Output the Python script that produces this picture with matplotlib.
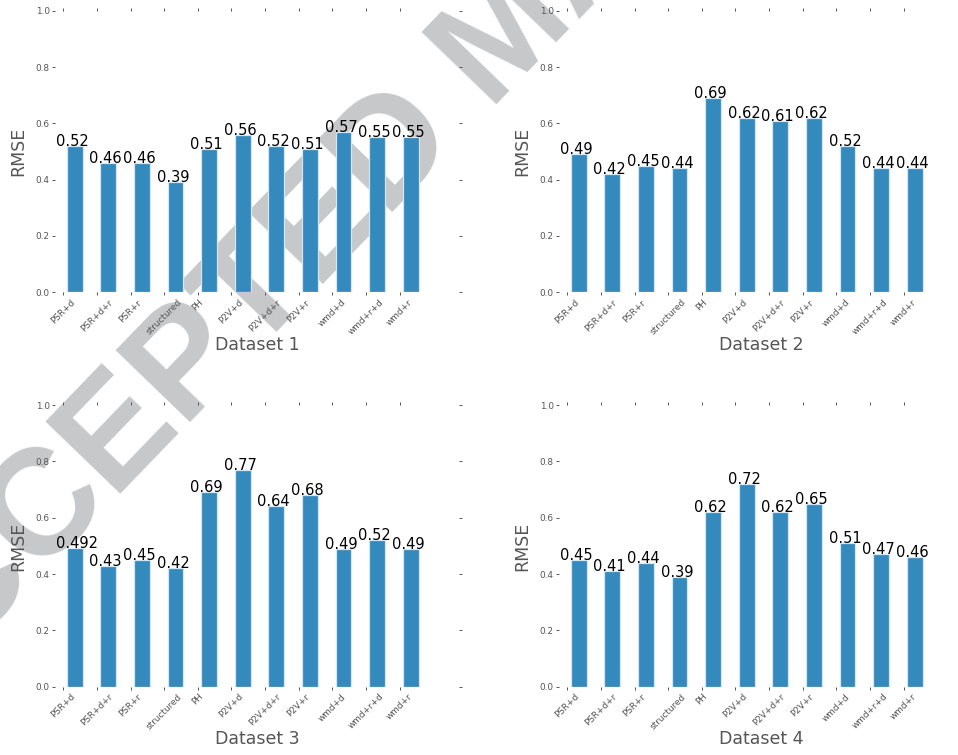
import matplotlib
matplotlib.use("Agg")
import numpy as np
import matplotlib.pyplot as plt

# methods on the x axis
methods = ["PSR+d", "PSR+d+r", "PSR+r", "structured", "PH", "P2V+d",
           "P2V+d+r", "P2V+r", "wmd+d", "wmd+r+d", "wmd+r"]

# RMSE per dataset
rmse_ds1 = [0.52, 0.46, 0.46, 0.39, 0.51, 0.56, 0.52, 0.51, 0.57, 0.55, 0.55]
rmse_ds2 = [0.49, 0.42, 0.45, 0.44, 0.69, 0.62, 0.61, 0.62, 0.52, 0.44, 0.44]
rmse_ds3 = [0.492, 0.43, 0.45, 0.42, 0.69, 0.77, 0.64, 0.68, 0.49, 0.52, 0.49]
rmse_ds4 = [0.45, 0.41, 0.44, 0.39, 0.62, 0.72, 0.62, 0.65, 0.51, 0.47, 0.46]

titles = ["Dataset 1", "Dataset 2", "Dataset 3", "Dataset 4"]

bar_color = "#348ABD"
grey = "#555555"

fig = plt.figure(figsize=(9.58, 7.55), dpi=100)

# watermark, drawn behind the axes
fig.text(508 / 958, 1 - 36 / 755, "ACCEPTED MANUSCRIPT",
         fontsize=108, family="Liberation Sans", weight="bold",
         color="#c7c8ca", rotation=46, rotation_mode="anchor",
         ha="center", va="center", zorder=-1)

w, h = 404 / 958, 281.6 / 755
positions = [
    [55 / 958, 1 - 292.3 / 755, w, h],
    [559 / 958, 1 - 292.3 / 755, w, h],
    [55 / 958, 1 - 686.7 / 755, w, h],
    [559 / 958, 1 - 686.7 / 755, w, h],
]

ind = np.arange(len(methods))

for pos, vals, title in zip(positions, [rmse_ds1, rmse_ds2, rmse_ds3, rmse_ds4], titles):
    ax = fig.add_axes(pos)
    ax.patch.set_alpha(0)
    for s in ax.spines.values():
        s.set_visible(False)

    ax.bar(ind + 0.1, vals, 0.47, align="edge", color=bar_color,
           edgecolor="#d6e6f1", linewidth=0.9)
    for i, v in enumerate(vals):
        ax.text(i - 0.23, v, str(v), ha="left", va="baseline",
                fontsize=10.5, color="black")

    ax.set_xlim(-0.25, 11.77)
    ax.set_ylim(0, 1.0)
    ax.set_xticks(ind)
    ax.set_xticklabels(methods, rotation=45, ha="center")
    ax.set_yticks(np.arange(0, 1.01, 0.2))
    ax.tick_params(axis="both", which="major", direction="out", length=2.4,
                   width=0.7, color=grey, labelcolor=grey, labelsize=6.4,
                   top=True, right=True)
    ax.tick_params(axis="x", pad=1.5)
    ax.tick_params(axis="y", pad=1.5)

    ax.set_ylabel("RMSE", fontsize=12.5, color=grey)
    ax.yaxis.set_label_coords(-0.069, 0.5)
    ax.set_xlabel(title, fontsize=12.5, color=grey)
    ax.xaxis.set_label_coords(0.5, -0.155)

fig.savefig("out.png", dpi=100)
